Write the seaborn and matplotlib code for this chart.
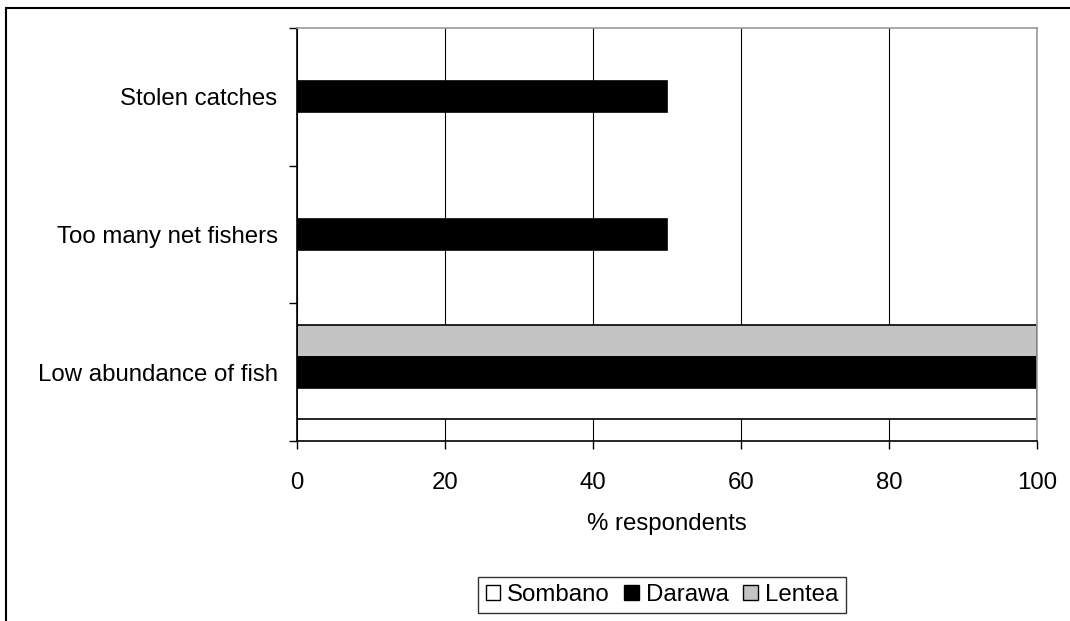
import matplotlib
matplotlib.use("Agg")
import matplotlib.pyplot as plt
from matplotlib.patches import Patch, Rectangle
import pandas as pd
import seaborn as sns

# Problems reported by respondents, per village (% respondents)
problems = ["Stolen catches", "Too many net fishers", "Low abundance of fish"]
villages = ["Sombano", "Darawa", "Lentea"]
sombano = [0, 0, 100]
darawa = [50, 50, 100]
lentea = [0, 0, 100]

colors = {"Sombano": "#ffffff", "Darawa": "#000000", "Lentea": "#c4c4c4"}

rows = []
for v, vals in zip(villages, [sombano, darawa, lentea]):
    for p, val in zip(problems, vals):
        rows.append({"Problem": p, "Village": v, "Percent": val})
df = pd.DataFrame(rows)

sns.set_style("white")
plt.rcParams["font.family"] = ["Liberation Sans", "DejaVu Sans"]
plt.rcParams["text.color"] = "black"
plt.rcParams["axes.labelcolor"] = "black"
plt.rcParams["xtick.color"] = "black"
plt.rcParams["ytick.color"] = "black"

FS = 17.3

fig = plt.figure(figsize=(10.70, 6.21), dpi=100)
ax = fig.add_axes([297 / 1070, 1 - 441 / 621, 740 / 1070, 413 / 621])

sns.barplot(
    data=df, y="Problem", x="Percent", hue="Village",
    order=problems, hue_order=["Lentea", "Darawa", "Sombano"],
    palette=colors, orient="h", width=0.68,
    edgecolor="black", linewidth=1.2, saturation=1, ax=ax, legend=False,
)

ax.set_xlim(0, 100)
ax.set_ylim(2.5, -0.5)
ax.set_xticks([0, 20, 40, 60, 80, 100])
ax.set_xticklabels(["0", "20", "40", "60", "80", "100"], fontsize=FS)
ax.set_yticks([0, 1, 2])
ax.set_yticklabels(problems, fontsize=FS)
ax.set_yticks([-0.5, 0.5, 1.5, 2.5], minor=True)
ax.tick_params(axis="y", which="major", left=False, length=0, pad=14)
ax.tick_params(axis="y", which="minor", left=True, length=6, width=1,
               color="black", direction="out")
ax.tick_params(axis="x", which="major", bottom=True, length=6, width=1,
               color="black", direction="out", pad=16)
ax.set_xlabel("% respondents", fontsize=FS, labelpad=14)
ax.set_ylabel("")

ax.xaxis.grid(True, color="black", linewidth=0.8)
ax.set_axisbelow(True)
for side in ["left", "bottom"]:
    ax.spines[side].set_color("black")
    ax.spines[side].set_linewidth(1.2)
for side in ["top", "right"]:
    ax.spines[side].set_visible(True)
    ax.spines[side].set_color("#999999")
    ax.spines[side].set_linewidth(1.2)

# Outer chart frame
fig.patches.append(Rectangle((6 / 1070, -0.1), 1.2, 1 - 8 / 621 + 0.1,
                             transform=fig.transFigure, fill=False,
                             edgecolor="black", linewidth=1.5))

handles = [Patch(facecolor=colors[v], edgecolor="black", linewidth=1, label=v)
           for v in villages]
leg = fig.legend(handles=handles, loc="center", ncol=3,
                 bbox_to_anchor=(662 / 1070, 1 - 595 / 621),
                 frameon=True, fancybox=False, edgecolor="black",
                 fontsize=FS, handlelength=0.6, handleheight=0.6,
                 handletextpad=0.3, columnspacing=0.6, borderpad=0.3,
                 borderaxespad=0)
leg.get_frame().set_linewidth(1)

fig.savefig("out.png", dpi=100)
